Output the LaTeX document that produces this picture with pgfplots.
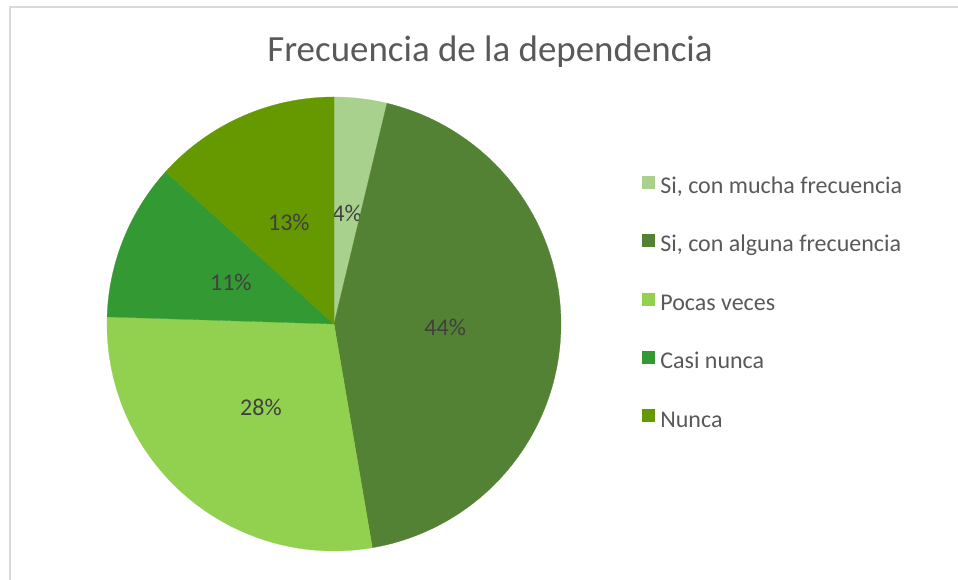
\documentclass[border=0pt]{standalone}
\usepackage{pgfplots}
\pgfplotsset{compat=1.18}
\usepackage{pgfplotstable}
\usepackage{fontspec}
\setmainfont{Carlito}
\definecolor{c1}{HTML}{A9D18E}
\definecolor{c2}{HTML}{548235}
\definecolor{c3}{HTML}{92D050}
\definecolor{c4}{HTML}{339933}
\definecolor{c5}{HTML}{669900}
\definecolor{titlegray}{HTML}{595959}
\definecolor{labelgray}{HTML}{404040}
\definecolor{bordergray}{HTML}{D9D9D9}
\pgfplotstableread{
value color
3.75 c1
43.55 c2
28.2 c3
11.2 c4
13.3 c5
}\piedata
\begin{document}
\begin{tikzpicture}
\useasboundingbox (0,0) rectangle (718.5pt,435pt);
\draw[bordergray, line width=1.1pt] (7.5pt,-20pt) -- (7.5pt,429.75pt) -- (740pt,429.75pt);
\node[text=titlegray, font=\fontsize{27.7}{33}\selectfont] at (367.5pt,396.5pt) {Frecuencia de la dependencia};
\begin{axis}[
  at={(250.5pt,192pt)}, anchor=center,
  width=340.5pt, height=340.5pt, scale only axis,
  xmin=-1, xmax=1, ymin=-1, ymax=1,
  hide axis, clip=false,
  legend image code/.code={\fill[#1] (0pt,0pt) rectangle (9pt,9pt);},
  legend entries={{Si, con mucha frecuencia},{Si, con alguna frecuencia},{Pocas veces},{Casi nunca},{Nunca}},
  legend cell align=left,
  legend style={at={(1.178,0.543)}, anchor=west, draw=none, fill=none,
    inner sep=0pt, column sep=4.5pt, row sep=26pt,
    font=\fontsize{18}{21}\selectfont, text=titlegray,
    nodes={inner sep=0pt, text height=13pt, text depth=4.5pt}},
]
\pgfplotstablegetrowsof{\piedata}
\pgfmathtruncatemacro\N{\pgfplotsretval-1}
\def\cum{0}
\pgfplotsforeachungrouped \i in {0,...,\N}{
  \pgfplotstablegetelem{\i}{value}\of\piedata \let\v\pgfplotsretval
  \pgfplotstablegetelem{\i}{color}\of\piedata \let\c\pgfplotsretval
  \pgfmathsetmacro\aS{90-3.6*\cum}
  \pgfmathsetmacro\aE{90-3.6*(\cum+\v)}
  \pgfmathsetmacro\aM{(\aS+\aE)/2}
  \pgfmathsetmacro\cum{\cum+\v}
  \pgfmathtruncatemacro\r{round(\v)}
  \edef\tmp{\noexpand\addplot[fill=\c, draw=\c, line width=0.2pt, domain=\aE:\aS, samples=90] ({cos(x)},{sin(x)}) -- (axis cs:0,0) -- cycle;}
  \tmp
  \edef\tmp{\noexpand\node[text=labelgray, font=\noexpand\fontsize{18}{21}\noexpand\selectfont] at (axis cs:{0.49*cos(\aM)},{0.49*sin(\aM)}) {\r\noexpand\%};}
  \tmp
}
\end{axis}
\end{tikzpicture}
\end{document}
